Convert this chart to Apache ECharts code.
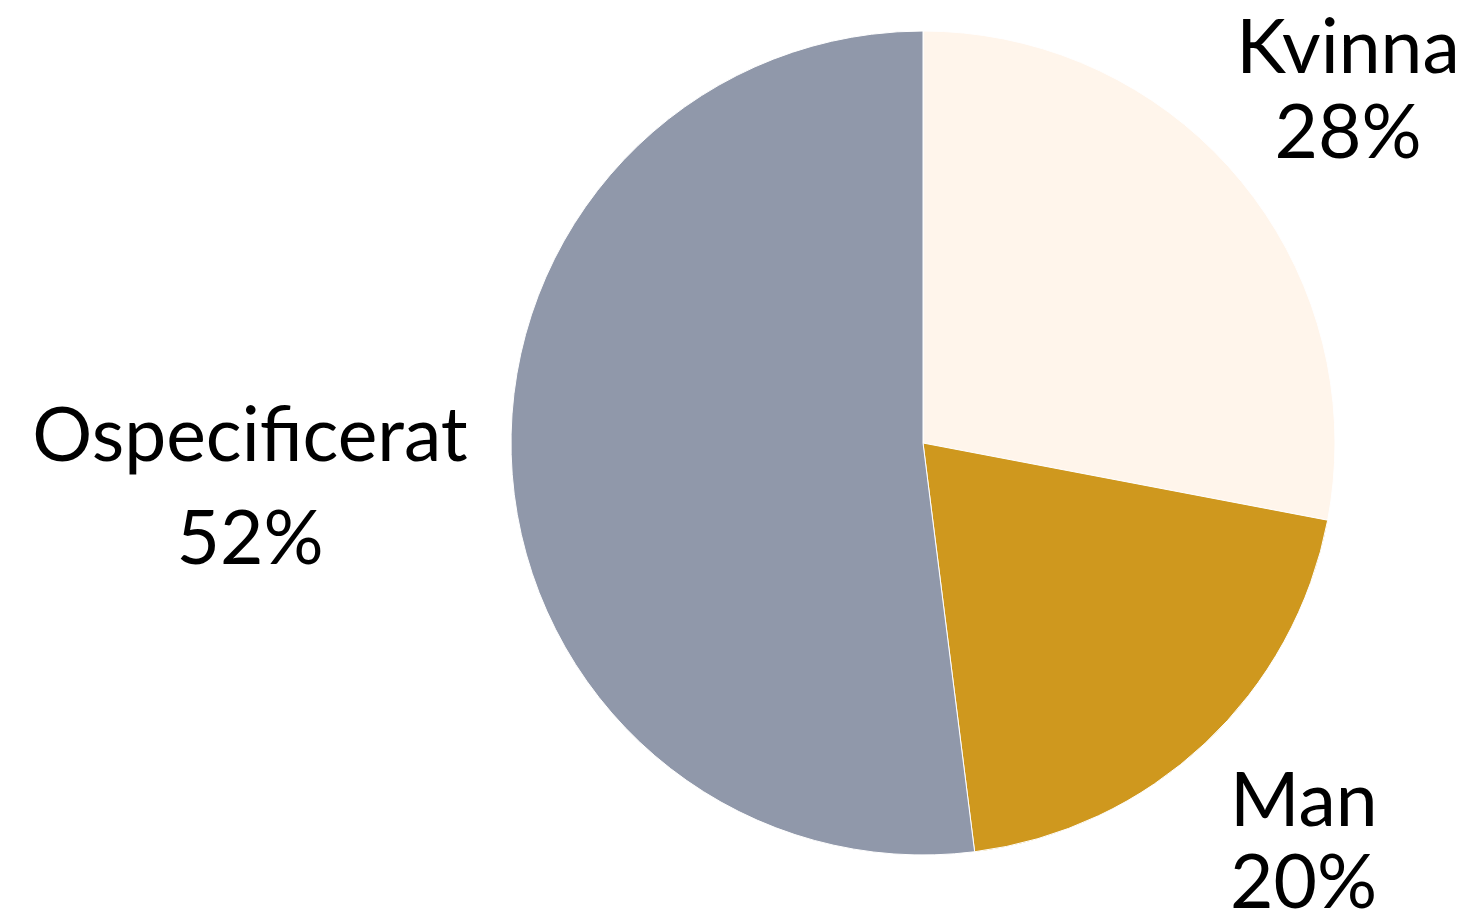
<!DOCTYPE html>
<html>
<head>
<meta charset="utf-8">
<script src="https://cdn.jsdelivr.net/npm/echarts@6/dist/echarts.min.js"></script>
<style>
  html, body { margin: 0; padding: 0; background: #ffffff; }
  #chart { width: 1471px; height: 919px; }
</style>
</head>
<body>
<div id="chart"></div>
<script>
// shares (percent)
const categories = ['Kvinna', 'Man', 'Ospecificerat']
const shares = [28, 20, 52]
const colors = ['#FFF5EB', '#CF981E', '#9098AA']

// where each label sits, keyed by category
const labelSpots = {
  Kvinna: { x: 1348, y: 91, align: 'center', lineHeight: 85 },
  Man: { x: 1230, y: 843, align: 'left', lineHeight: 82 },
  Ospecificerat: { x: 250, y: 488, align: 'center', lineHeight: 103 }
}

const chart = echarts.init(document.getElementById('chart'))

chart.setOption({
  backgroundColor: '#ffffff',
  animation: false,
  series: [{
    type: 'pie',
    center: [923, 443],
    radius: [0, 412],
    startAngle: 90,
    clockwise: true,
    data: categories.map((name, i) => ({
      name,
      value: shares[i],
      itemStyle: { color: colors[i] },
      label: {
        align: labelSpots[name].align,
        lineHeight: labelSpots[name].lineHeight
      }
    })),
    itemStyle: { borderColor: '#ffffff', borderWidth: 1 },
    label: {
      show: true,
      position: 'outside',
      formatter: '{b}\n{c}%',
      color: '#000000',
      fontFamily: 'Lato',
      fontSize: 75,
      overflow: 'none'
    },
    labelLine: { show: false },
    labelLayout: (params) => {
      const spot = labelSpots[categories[params.dataIndex]]
      return { x: spot.x, y: spot.y, align: spot.align, verticalAlign: 'middle', hideOverlap: false }
    }
  }]
})
</script>
</body>
</html>
